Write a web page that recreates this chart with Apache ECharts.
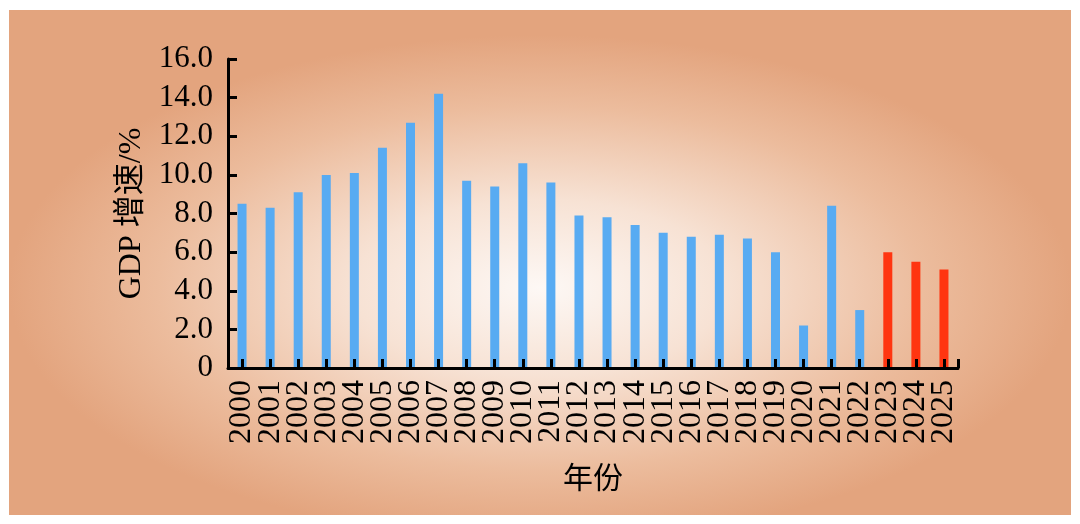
<!DOCTYPE html>
<html>
<head>
<meta charset="utf-8">
<script src="https://cdn.jsdelivr.net/npm/echarts@6/dist/echarts.min.js"></script>
<style>
html,body{margin:0;padding:0;background:#fff;}
#c{width:1080px;height:524px;}
</style>
</head>
<body>
<div id="c"></div>
<script>
const years = ['2000','2001','2002','2003','2004','2005','2006','2007','2008','2009','2010','2011','2012','2013','2014','2015','2016','2017','2018','2019','2020','2021','2022','2023','2024','2025'];
const growth = [8.5,8.3,9.1,10.0,10.1,11.4,12.7,14.2,9.7,9.4,10.6,9.6,7.9,7.8,7.4,7.0,6.8,6.9,6.7,6.0,2.2,8.4,3.0,6.0,5.5,5.1];
const forecastFrom = '2023';
const yTicks = {min:0, max:16, interval:2};

const BLUE = '#58ABF2', RED = '#FF3510';
const serif = "'Liberation Serif','Noto Sans CJK SC',serif";
const fi = years.indexOf(forecastFrom);
const barData = growth.map((v,i)=>({value:v, itemStyle:{color: i>=fi?RED:BLUE}}));

const chart = echarts.init(document.getElementById('c'), null, {renderer:'canvas'});
const gridBox = {left:228, right:122, top:59, bottom:156};
const bgW = 1062, bgH = 505;
chart.setOption({
  animation:false,
  backgroundColor:'#ffffff',
  graphic:[{
    type:'rect', silent:true, z:-100,
    x:9, y:10, scaleX: bgW/bgH, scaleY:1,
    shape:{x:0,y:0,width:bgH,height:bgH},
    style:{fill: new echarts.graphic.RadialGradient(0.5,0.55,0.5,[
      {offset:0,color:'#FDF8F5'},
      {offset:0.35,color:'#F7E2D4'},
      {offset:0.72,color:'#ECBC9D'},
      {offset:1,color:'#E3A47E'}
    ])}
  }],
  grid:[Object.assign({}, gridBox), Object.assign({}, gridBox)],
  xAxis:[{
    type:'category', data:years, gridIndex:0, boundaryGap:true, z:5,
    axisLine:{lineStyle:{color:'#000',width:3}},
    axisTick:{show:true, inside:true, alignWithLabel:true, interval:0, length:9, lineStyle:{color:'#000',width:3}},
    axisLabel:{rotate:90, interval:0, margin:12, fontSize:32, fontFamily:serif, color:'#000'},
    name:'年份', nameLocation:'middle', nameGap:97,
    nameTextStyle:{fontSize:30, fontFamily:serif, color:'#000'},
    splitLine:{show:false}
  },{
    type:'value', gridIndex:1, min:0, max:years.length, interval:years.length, z:5,
    axisLine:{show:false},
    axisTick:{inside:true, length:9, lineStyle:{color:'#000',width:3}},
    axisLabel:{show:false}, splitLine:{show:false}
  }],
  yAxis:[{
    type:'value', gridIndex:0, min:yTicks.min, max:yTicks.max, interval:yTicks.interval, z:5,
    axisLine:{show:true, lineStyle:{color:'#000',width:3}},
    axisTick:{show:true, inside:true, length:9, lineStyle:{color:'#000',width:3}},
    axisLabel:{margin:15, fontSize:31, fontFamily:serif, color:'#000',
      formatter:v=> v===0 ? '0' : v.toFixed(1)},
    splitLine:{show:false},
    name:'GDP 增速/%', nameLocation:'middle', nameGap:78,
    nameTextStyle:{fontSize:32, fontFamily:serif, color:'#000'}
  },{
    type:'value', gridIndex:1, show:false, min:0, max:1
  }],
  series:[{
    type:'bar', xAxisIndex:0, yAxisIndex:0, data:barData, barWidth:9,
    z:1
  }]
});
</script>
</body>
</html>
